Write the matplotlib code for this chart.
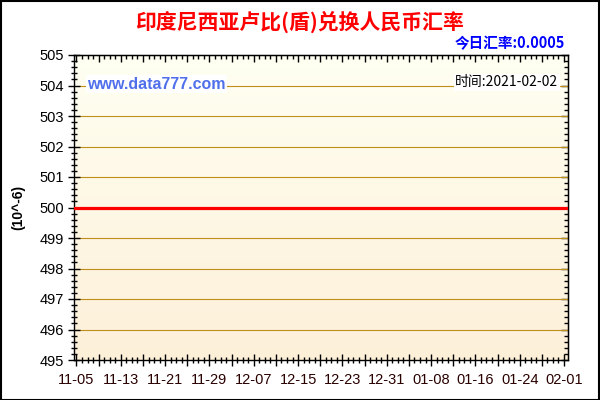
import matplotlib
matplotlib.use("Agg")
import matplotlib.pyplot as plt
import matplotlib.dates as mdates
from matplotlib.colors import LinearSegmentedColormap
import numpy as np
import datetime as dt

# ---- data ----
dates = ["2020-11-04", "2020-11-20", "2020-12-10", "2021-01-01", "2021-01-20", "2021-02-02"]
rates = [500, 500, 500, 500, 500, 500]
tick_labels = ["11-05", "11-13", "11-21", "11-29", "12-07", "12-15",
               "12-23", "12-31", "01-08", "01-16", "01-24", "02-01"]
title = "印度尼西亚卢比(盾)兑换人民币汇率"
today_rate = "今日汇率:0.0005"
time_text = "时间:2021-02-02"
site = "www.data777.com"
ylabel = "(10^-6)"

plt.rcParams['font.family'] = ['Liberation Sans', 'Noto Sans CJK SC', 'DejaVu Sans']

fig = plt.figure(figsize=(6, 4), dpi=100)
ax = fig.add_axes([74/600, 1-360/400, (568-74)/600, (360-55)/400])

x = [mdates.date2num(dt.datetime.strptime(d, "%Y-%m-%d")) for d in dates]
start = mdates.date2num(dt.datetime(2020, 11, 5))
end = mdates.date2num(dt.datetime(2021, 2, 1))
x0, x1 = start - 0.45, end + 0.72

# gradient background
cmap = LinearSegmentedColormap.from_list("bg", ["#FFFFF2", "#FDF0D9"])
ax.imshow(np.linspace(0, 1, 256).reshape(-1, 1), extent=[x0, x1, 495, 505],
          aspect='auto', cmap=cmap, origin='upper', zorder=0, interpolation='bilinear')

# grid
for yv in range(496, 505):
    ax.axhline(yv, color="#BF8F1A", lw=0.8, zorder=1)

ax.plot(x, rates, color="#FF0000", lw=2.3, zorder=3, solid_capstyle='butt')

ax.set_xlim(x0, x1)
ax.set_ylim(495, 505)

# ticks
maj = [start + 4 * i for i in range(23)]
labs = [tick_labels[i // 2] if i % 2 == 0 else "" for i in range(23)]
minor_x = [start + i for i in range(89)]
major_y = list(range(495, 506))
minor_y = np.arange(495, 505.01, 0.2)

ax.set_xticks(maj)
ax.set_xticklabels(labs, fontsize=10.5, color="#2a0000")
ax.set_xticks(minor_x, minor=True)
ax.set_yticks(major_y)
ax.set_yticklabels([str(v) for v in major_y], fontsize=10.5)
ax.set_yticks(minor_y, minor=True)

ax.tick_params(axis='both', which='major', direction='inout', length=8, width=1, color='black')
ax.tick_params(axis='both', which='minor', direction='inout', length=5, width=1, color='black')
ax.tick_params(axis='x', which='both', pad=5)
ax.tick_params(axis='y', which='both', pad=3)

# inward ticks on top and right
top = ax.secondary_xaxis('top')
top.set_xticks(maj)
top.set_xticks(minor_x, minor=True)
top.tick_params(which='major', direction='in', length=5, width=1, labeltop=False)
top.tick_params(which='minor', direction='in', length=3, width=1)
top.set_xticklabels([])
right = ax.secondary_yaxis('right')
right.set_yticks(major_y)
right.set_yticks(minor_y, minor=True)
right.tick_params(which='major', direction='in', length=5, width=1)
right.tick_params(which='minor', direction='in', length=3, width=1)
right.set_yticklabels([])

for s in ax.spines.values():
    s.set_linewidth(1)
    s.set_color('black')

# texts
fig.text(0.5, 1-22/400, title, ha='center', va='center', fontsize=15, fontweight='bold',
         color='#FF0000', family=['Noto Sans CJK SC'])
fig.text(565/600, 1-43/400, today_rate, ha='right', va='center', fontsize=10.5, fontweight='bold',
         color='#0000FF', family=['Noto Sans CJK SC'])
ax.text(0.027, 0.904, site, transform=ax.transAxes, ha='left', va='center', fontsize=11.5,
        fontweight='bold', color='#4F70EA', zorder=5,
        bbox=dict(facecolor='white', edgecolor='none', pad=1))
ax.text(0.98, 0.91, time_text, transform=ax.transAxes, ha='right', va='center', fontsize=10,
        color='black', zorder=5, family=['Noto Sans CJK SC'],
        bbox=dict(facecolor='white', edgecolor='none', pad=1))
fig.text(18/600, 1-207/400, ylabel, rotation=90, ha='center', va='center', fontsize=10,
         fontweight='bold')

# figure border
fig.patches.append(plt.Rectangle((0.001, 0.001), 0.997, 0.997, transform=fig.transFigure,
                                 fill=False, edgecolor='black', lw=1.5))

fig.savefig("out.png", dpi=100, facecolor='white')
